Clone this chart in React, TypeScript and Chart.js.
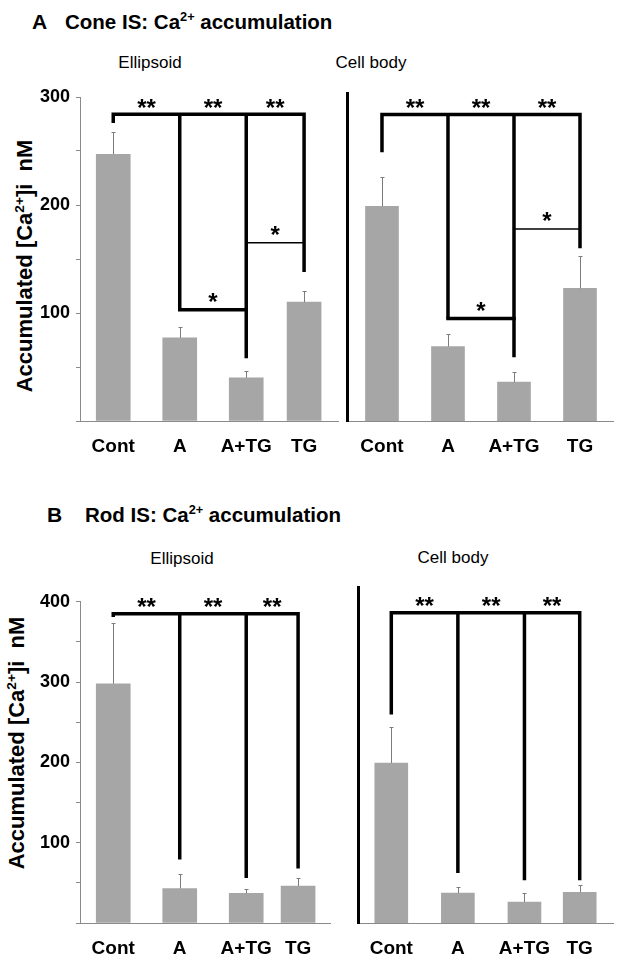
import React, { useEffect, useRef } from 'react';
import { Chart, registerables } from 'chart.js';

Chart.register(...registerables);

const FONT = '"Liberation Sans", Arial, Helvetica, sans-serif';

// ---------- data ----------
const categories = ['Cont', 'A', 'A+TG', 'TG'];
const coneTickLabels = ['100', '200', '300'];
const rodTickLabels = ['100', '200', '300', '400'];

// Cone IS (panel A), nM, mean and SEM
const coneEllipsoidMean = [247, 77, 40, 110];
const coneEllipsoidSem = [21, 10, 6, 10];
const coneBodyMean = [199, 69, 36, 123];
const coneBodySem = [27, 12, 9, 30];

// Rod IS (panel B)
const rodEllipsoidMean = [298, 43, 37, 46];
const rodEllipsoidSem = [75, 18, 5, 10];
const rodBodyMean = [198, 37, 26, 38];
const rodBodySem = [45, 8, 11, 9];

// significance brackets (levels in nM): common top, leg ends per bar, pair bars
const coneEllipsoidBracketTop = 284;
const coneEllipsoidLegEnds = [276, 103, 58, 138];
const coneEllipsoidPairLevels = [103, 165];
const coneBodyBracketTop = 284;
const coneBodyLegEnds = [249, 95, 59, 160];
const coneBodyPairLevels = [95, 178];
const rodEllipsoidBracketTop = 385;
const rodEllipsoidLegEnds = [381, 79, 56, 68];
const rodBodyBracketTop = 384;
const rodBodyLegEnds = [258, 62, 53, 53];

type Box = { left: number; top: number; width: number; height: number };
type Area = { left: number; top: number; right: number; bottom: number };
type Panel = {
  key: string;
  mean: number[];
  sem: number[];
  top: number;
  legs: number[];
  pairs: [number, number][];
  pairLevels: number[];
  pairWidths: number[];
  yMax: number;
  tickLabels: string[] | null;
  slots: number[];
  xMin: number;
  xMax: number;
  barW: number;
  thickAxis: boolean;
  canvas: Box;
  area: Area;
};

const panels: Panel[] = [
  {
    key: 'AL', mean: coneEllipsoidMean, sem: coneEllipsoidSem,
    top: coneEllipsoidBracketTop, legs: coneEllipsoidLegEnds,
    pairs: [[1, 2], [2, 3]], pairLevels: coneEllipsoidPairLevels, pairWidths: [3.5, 1.5],
    yMax: 300, tickLabels: coneTickLabels,
    slots: [0, 1, 2, 2.87], xMin: -0.5, xMax: 3.38, barW: 34, thickAxis: false,
    canvas: { left: 0, top: 80, width: 345, height: 390 },
    area: { left: 80, top: 97, right: 338, bottom: 421 },
  },
  {
    key: 'AR', mean: coneBodyMean, sem: coneBodySem,
    top: coneBodyBracketTop, legs: coneBodyLegEnds,
    pairs: [[1, 2], [2, 3]], pairLevels: coneBodyPairLevels, pairWidths: [3.5, 1.5],
    yMax: 304, tickLabels: null,
    slots: [0, 1, 2, 3], xMin: -0.53, xMax: 3.5, barW: 33, thickAxis: true,
    canvas: { left: 340, top: 80, width: 282, height: 390 },
    area: { left: 347, top: 93, right: 613, bottom: 421 },
  },
  {
    key: 'BL', mean: rodEllipsoidMean, sem: rodEllipsoidSem,
    top: rodEllipsoidBracketTop, legs: rodEllipsoidLegEnds,
    pairs: [], pairLevels: [], pairWidths: [],
    yMax: 400, tickLabels: rodTickLabels,
    slots: [0, 1, 2, 2.78], xMin: -0.5, xMax: 3.26, barW: 34, thickAxis: false,
    canvas: { left: 0, top: 585, width: 350, height: 388 },
    area: { left: 80, top: 600, right: 330, bottom: 923 },
  },
  {
    key: 'BR', mean: rodBodyMean, sem: rodBodySem,
    top: rodBodyBracketTop, legs: rodBodyLegEnds,
    pairs: [], pairLevels: [], pairWidths: [],
    yMax: 416, tickLabels: null,
    slots: [0, 1, 2, 2.83], xMin: -0.5, xMax: 3.33, barW: 33, thickAxis: true,
    canvas: { left: 350, top: 575, width: 272, height: 398 },
    area: { left: 358, top: 587, right: 613, bottom: 923 },
  },
];

function PanelChart({ p }: { p: Panel }) {
  const ref = useRef<HTMLCanvasElement>(null);
  useEffect(() => {
    const c = ref.current;
    if (!c) return;
    const yW = p.area.left - p.canvas.left;
    const xH = p.canvas.top + p.canvas.height - p.area.bottom;
    const padTop = p.area.top - p.canvas.top;
    const padRight = p.canvas.left + p.canvas.width - p.area.right;

    const sigPlugin = {
      id: 'sig' + p.key,
      afterDatasetsDraw(chart: any) {
        const ctx = chart.ctx as CanvasRenderingContext2D;
        const ys = chart.scales.y;
        const meta = chart.getDatasetMeta(0);
        const cx: number[] = meta.data.map((el: any) => el.x);
        const n = cx.length;
        ctx.save();
        // error bars (upper half)
        ctx.strokeStyle = '#7c7c7c';
        ctx.lineWidth = 1;
        p.mean.forEach((m, i) => {
          const x = Math.round(cx[i]) + 0.5;
          const y0 = ys.getPixelForValue(m);
          const y1 = Math.round(ys.getPixelForValue(m + p.sem[i])) + 0.5;
          ctx.beginPath();
          ctx.moveTo(x, y0);
          ctx.lineTo(x, y1);
          ctx.moveTo(x - 2, y1);
          ctx.lineTo(x + 2, y1);
          ctx.stroke();
        });
        // main bracket
        ctx.strokeStyle = '#000';
        ctx.lineWidth = 3.5;
        ctx.lineJoin = 'miter';
        ctx.lineCap = 'butt';
        const yt = ys.getPixelForValue(p.top);
        ctx.beginPath();
        ctx.moveTo(cx[0], ys.getPixelForValue(p.legs[0]));
        ctx.lineTo(cx[0], yt);
        ctx.lineTo(cx[n - 1], yt);
        ctx.lineTo(cx[n - 1], ys.getPixelForValue(p.legs[n - 1]));
        for (let i = 1; i < n - 1; i++) {
          ctx.moveTo(cx[i], yt);
          ctx.lineTo(cx[i], ys.getPixelForValue(p.legs[i]));
        }
        ctx.stroke();
        // pair brackets
        ctx.lineCap = 'square';
        p.pairs.forEach(([a, b], k) => {
          const y = ys.getPixelForValue(p.pairLevels[k]);
          ctx.lineWidth = p.pairWidths[k];
          ctx.beginPath();
          ctx.moveTo(cx[a], y);
          ctx.lineTo(cx[b], y);
          ctx.stroke();
        });
        // stars
        ctx.fillStyle = '#000';
        ctx.font = `bold 24px ${FONT}`;
        ctx.textAlign = 'center';
        ctx.textBaseline = 'alphabetic';
        const star = (txt: string, x: number, yc: number) => {
          const m = ctx.measureText(txt);
          const base = yc - (m.actualBoundingBoxDescent - m.actualBoundingBoxAscent) / 2;
          ctx.fillText(txt, x, base);
        };
        for (let i = 0; i < n - 1; i++) star('**', (cx[i] + cx[i + 1]) / 2, yt - 11);
        p.pairs.forEach(([a, b], k) => {
          star('*', (cx[a] + cx[b]) / 2, ys.getPixelForValue(p.pairLevels[k]) - 12);
        });
        ctx.restore();
      },
    };

    const axisGray = '#8a8a8a';
    const chart = new Chart(c, {
      type: 'bar',
      data: {
        datasets: [
          {
            data: p.mean.map((v, i) => ({ x: p.slots[i], y: v })),
            backgroundColor: '#a6a6a6',
            borderWidth: 0,
            barThickness: p.barW,
          },
        ],
      },
      options: {
        animation: false,
        responsive: false,
        devicePixelRatio: 1,
        events: [],
        layout: { padding: { top: padTop, right: padRight, bottom: 0, left: 0 } },
        plugins: { legend: { display: false }, tooltip: { enabled: false }, title: { display: false } },
        scales: {
          x: {
            type: 'linear',
            min: p.xMin,
            max: p.xMax,
            offset: false,
            afterBuildTicks: (s: any) => {
              s.ticks = p.slots.map((v) => ({ value: v }));
            },
            afterFit: (s: any) => {
              s.height = xH;
            },
            ticks: {
              autoSkip: false,
              maxRotation: 0,
              minRotation: 0,
              padding: 14,
              color: '#000',
              font: { family: FONT, size: 19, weight: 'bold' },
              callback: (_v: any, i: number) => categories[i],
            },
            grid: { display: true, drawOnChartArea: false, drawTicks: false },
            border: { display: true, color: axisGray, width: 1 },
          },
          y: {
            type: 'linear',
            min: 0,
            max: p.yMax,
            afterFit: (s: any) => {
              s.width = yW;
            },
            ticks: {
              display: !!p.tickLabels,
              stepSize: 50,
              padding: 6,
              color: '#000',
              font: { family: FONT, size: 18, weight: 'bold' },
              callback: (v: any) => (p.tickLabels && p.tickLabels.includes(String(v)) ? String(v) : ''),
            },
            grid: {
              display: !p.thickAxis,
              drawOnChartArea: false,
              drawTicks: true,
              tickLength: 4,
              color: axisGray,
            },
            border: {
              display: true,
              color: p.thickAxis ? '#000' : axisGray,
              width: p.thickAxis ? 3 : 1,
            },
          },
        },
      } as any,
      plugins: [sigPlugin],
    });
    return () => chart.destroy();
  }, [p]);

  return (
    <canvas
      ref={ref}
      width={p.canvas.width}
      height={p.canvas.height}
      style={{
        position: 'absolute',
        left: p.canvas.left,
        top: p.canvas.top,
        width: p.canvas.width,
        height: p.canvas.height,
      }}
    />
  );
}

const supStyle: React.CSSProperties = { fontSize: '0.62em', lineHeight: 0, verticalAlign: 'super' };

function PanelTitle({ letter, text, letterX, textX, top }: { letter: string; text: string; letterX: number; textX: number; top: number }) {
  return (
    <>
      <div style={{ position: 'absolute', left: letterX, top, font: `bold 21px ${FONT}`, whiteSpace: 'nowrap' }}>{letter}</div>
      <div style={{ position: 'absolute', left: textX, top, font: `bold 20.5px ${FONT}`, whiteSpace: 'nowrap' }}>
        {text}: Ca<sup style={supStyle}>2+</sup> accumulation
      </div>
    </>
  );
}

function SubTitle({ text, cx, top }: { text: string; cx: number; top: number }) {
  return (
    <div style={{ position: 'absolute', left: cx, top, transform: 'translateX(-50%)', font: `17px ${FONT}`, whiteSpace: 'nowrap' }}>
      {text}
    </div>
  );
}

function YTitle({ cx, cy }: { cx: number; cy: number }) {
  return (
    <div
      style={{
        position: 'absolute',
        left: cx,
        top: cy,
        transform: 'translate(-50%, -50%) rotate(-90deg)',
        font: `bold 22px ${FONT}`,
        whiteSpace: 'nowrap',
        lineHeight: 1,
      }}
    >
      Accumulated [Ca<sup style={supStyle}>2+</sup>]i&nbsp; nM
    </div>
  );
}

export default function App() {
  return (
    <div style={{ position: 'absolute', left: 0, top: 0, width: 622, height: 973, background: '#fff', overflow: 'hidden', color: '#000' }}>
      <PanelTitle letter="A" text="Cone IS" letterX={32} textX={65} top={10} />
      <SubTitle text="Ellipsoid" cx={150} top={53} />
      <SubTitle text="Cell body" cx={371} top={53} />
      <YTitle cx={25} cy={266} />
      <PanelTitle letter="B" text="Rod IS" letterX={47} textX={85} top={503} />
      <SubTitle text="Ellipsoid" cx={182} top={549} />
      <SubTitle text="Cell body" cx={453} top={548} />
      <YTitle cx={17} cy={743} />
      {panels.map((p) => (
        <PanelChart key={p.key} p={p} />
      ))}
    </div>
  );
}
